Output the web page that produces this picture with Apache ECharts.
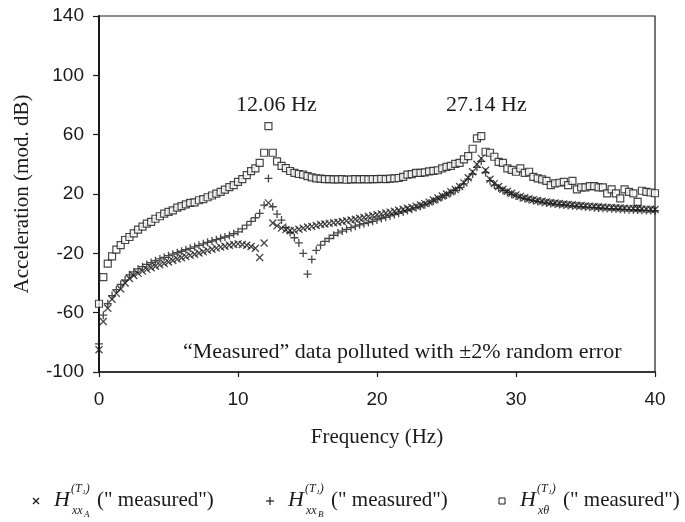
<!DOCTYPE html>
<html>
<head>
<meta charset="utf-8">
<title>Accelerance FRF</title>
<script src="https://cdn.jsdelivr.net/npm/echarts@6/dist/echarts.min.js"></script>
<style>
  html, body { margin: 0; padding: 0; background: #fff; }
  #chart { width: 685px; height: 522px; }
</style>
</head>
<body>
<div id="chart"></div>
<script>
// frequency grid (Hz)
const freq = [
  0, 0.31, 0.63, 0.94, 1.25, 1.56, 1.88, 2.19, 2.5, 2.81,
  3.13, 3.44, 3.75, 4.06, 4.38, 4.69, 5, 5.31, 5.63, 5.94,
  6.25, 6.56, 6.88, 7.19, 7.5, 7.81, 8.13, 8.44, 8.75, 9.06,
  9.38, 9.69, 10, 10.31, 10.63, 10.94, 11.25, 11.56, 11.88, 12.19,
  12.5, 12.81, 13.13, 13.44, 13.75, 14.06, 14.38, 14.69, 15, 15.31,
  15.63, 15.94, 16.25, 16.56, 16.88, 17.19, 17.5, 17.81, 18.13, 18.44,
  18.75, 19.06, 19.38, 19.69, 20, 20.31, 20.63, 20.94, 21.25, 21.56,
  21.88, 22.19, 22.5, 22.81, 23.13, 23.44, 23.75, 24.06, 24.38, 24.69,
  25, 25.31, 25.63, 25.94, 26.25, 26.56, 26.88, 27.19, 27.5, 27.81,
  28.13, 28.44, 28.75, 29.06, 29.38, 29.69, 30, 30.31, 30.63, 30.94,
  31.25, 31.56, 31.88, 32.19, 32.5, 32.81, 33.13, 33.44, 33.75, 34.06,
  34.38, 34.69, 35, 35.31, 35.63, 35.94, 36.25, 36.56, 36.88, 37.19,
  37.5, 37.81, 38.13, 38.44, 38.75, 39.06, 39.38, 39.69, 40
];

// H_xxA ("measured"), mod. dB
const hxxA = [
  -85, -66, -57, -51, -47, -44, -40, -37, -35, -33.5,
  -32, -30.8, -29.7, -28.7, -27.8, -26.8, -25.8, -24.8, -23.8, -23,
  -22.2, -21.4, -20.6, -19.8, -18.9, -18, -17.2, -16.5, -15.8, -15.2,
  -14.6, -14.1, -13.6, -14, -14.6, -15.4, -16.6, -22.8, -13, 14,
  0.5, -1.5, -3, -4, -4.8, -4.5, -3.8, -3, -2.3, -1.8,
  -1.2, -0.6, -0.2, 0.2, 0.6, 1, 1.5, 2, 2.5, 3,
  3.6, 4.2, 4.8, 5.5, 6, 6.6, 7.2, 7.8, 8.4, 9,
  9.7, 10.4, 11, 11.8, 12.6, 13.5, 14.5, 16, 17.3, 18.6,
  20, 21.5, 23, 25, 27.5, 31, 35, 40, 44, 36,
  30, 27, 25, 23.2, 21.8, 20.5, 19.4, 18.4, 17.5, 16.8,
  16.2, 15.6, 15.1, 14.7, 14.3, 13.9, 13.6, 13.3, 13, 12.7,
  12.4, 12.2, 12, 11.8, 11.6, 11.4, 11.2, 11, 10.9, 10.7,
  10.6, 10.4, 10.3, 10.2, 10, 9.9, 9.8, 9.7, 9.6
];

// H_xxB ("measured")
const hxxB = [
  -81, -61.7, -54, -48.5, -44.5, -41, -38, -34.5, -32.5, -30.5,
  -29, -27.5, -26.2, -25, -23.8, -22.7, -21.6, -20.6, -19.6, -18.6,
  -17.6, -16.6, -15.6, -14.6, -13.6, -12.6, -11.7, -10.8, -9.9, -9,
  -8, -6.8, -5.5, -3.5, -1, 1.5, 4, 7, 12.5, 30.5,
  11.4, 6.5, 2.4, -2.5, -6, -9.5, -13, -20, -34, -24.1,
  -18, -14.5, -12, -10, -7.8, -6.2, -5, -3.8, -2.7, -1.7,
  -0.8, 0, 0.8, 1.6, 2.5, 3.4, 4.3, 5.2, 6.1, 7,
  7.9, 8.8, 9.8, 10.8, 11.8, 12.8, 13.9, 15.2, 16.5, 17.9,
  19.3, 20.8, 22.4, 24.3, 26.8, 30, 33.5, 38, 42, 34.5,
  29, 26, 24, 22.4, 21, 19.8, 18.7, 17.7, 16.9, 16.2,
  15.6, 15, 14.5, 14, 13.6, 13.2, 12.9, 12.6, 12.3, 12,
  11.7, 11.5, 11.2, 11, 10.8, 10.6, 10.4, 10.2, 10, 9.9,
  9.7, 9.6, 9.4, 9.3, 9.2, 9, 8.9, 8.8, 8.7
];

// H_xθ ("measured")
const hxTheta = [
  -54, -36, -27, -22, -17.5, -14.5, -11, -9, -6.5, -4,
  -2, 0, 1.2, 3.3, 5, 6.8, 8, 9, 10.8, 11.8,
  13, 14, 14.3, 15.8, 16.5, 17.8, 19, 20.2, 21.5, 23,
  24.6, 26, 28.2, 30, 32.7, 35.4, 37.3, 41, 47.8, 65.8,
  47.8, 42, 39, 37.5, 35.5, 34.3, 33.5, 33, 32, 31.2,
  30.6, 30.3, 30, 30, 29.8, 29.8, 30, 29.6, 29.8, 30,
  29.8, 30, 29.8, 30, 30, 30.2, 30, 30.4, 30.5, 30.8,
  31.6, 33, 33.4, 34.2, 34.2, 34.6, 35.3, 35.6, 36, 37.3,
  38.3, 39, 40.3, 41, 43.3, 45.5, 50.5, 57.5, 59, 48.5,
  47.8, 45.1, 41.7, 41, 37.3, 36.2, 35, 37.3, 34.3, 35,
  31.6, 30.5, 29.8, 28.9, 26, 27.1, 27.6, 28.2, 26, 28.9,
  23.1, 24.5, 24.5, 25.3, 25.3, 24.5, 24.5, 20.4, 23.1, 20.4,
  17, 23.1, 21.5, 20.4, 14.7, 22.2, 21.5, 21, 20.5
];

const xTicks = [0, 10, 20, 30, 40];
const yTicks = [-100, -60, -20, 20, 60, 100, 140];

const SERIF = "'Liberation Serif', 'Times New Roman', serif";
const SANS = "'Liberation Sans', Arial, sans-serif";
const INK = '#1a1a1a';

const CROSS = 'path://M0,0L10,10M10,0L0,10';
const PLUS = 'path://M5,0L5,10M0,5L10,5';

function pairs(values) {
  return values.map((v, i) => [freq[i], v]);
}

function strokeMarker(symbol, size, width) {
  return {
    symbol: symbol,
    symbolSize: size,
    itemStyle: { color: 'transparent', borderColor: INK, borderWidth: width }
  };
}

function seg(x1, y1, x2, y2) {
  return {
    type: 'line',
    shape: { x1: x1, y1: y1, x2: x2, y2: y2 },
    style: { stroke: INK, lineWidth: 1.2 }
  };
}

// legend is drawn by hand because of the sub/superscripted H labels
const legendY = 501;

function legendItem(x0, marker, sub, subSub) {
  const y = legendY;
  const els = [].concat(marker);
  els.push({
    type: 'text', x: x0 + 18, y: y - 12,
    style: { text: 'H', font: 'italic 22px ' + SERIF, fill: INK }
  });
  els.push({
    type: 'text', x: x0 + 35, y: y - 18,
    style: { text: '(T\u2081)', font: 'italic 12px ' + SERIF, fill: INK }
  });
  els.push({
    type: 'text', x: x0 + 36, y: y + 4,
    style: { text: sub, font: 'italic 12px ' + SERIF, fill: INK }
  });
  if (subSub) {
    els.push({
      type: 'text', x: x0 + 48, y: y + 9,
      style: { text: subSub, font: 'italic 9px ' + SERIF, fill: INK }
    });
  }
  els.push({
    type: 'text', x: x0 + 61, y: y - 11,
    style: { text: '(" measured")', font: '21px ' + SERIF, fill: INK }
  });
  return els;
}

const legX = [36, 270, 502];

const graphics = [].concat(
  legendItem(legX[0], [
    seg(legX[0] - 3, legendY - 3, legX[0] + 3, legendY + 3),
    seg(legX[0] + 3, legendY - 3, legX[0] - 3, legendY + 3)
  ], 'xx', 'A'),
  legendItem(legX[1], [
    seg(legX[1], legendY - 4, legX[1], legendY + 4),
    seg(legX[1] - 4, legendY, legX[1] + 4, legendY)
  ], 'xx', 'B'),
  legendItem(legX[2], [{
    type: 'rect',
    shape: { x: legX[2] - 3, y: legendY - 3, width: 6, height: 6 },
    style: { stroke: INK, lineWidth: 1, fill: '#fff' }
  }], 'x\u03b8', null),
  [
    {
      type: 'text', x: 236, y: 94,
      style: { text: '12.06 Hz', font: '22px ' + SERIF, fill: INK }
    },
    {
      type: 'text', x: 446, y: 94,
      style: { text: '27.14 Hz', font: '22px ' + SERIF, fill: INK }
    },
    {
      type: 'text', x: 183, y: 341,
      style: { text: '\u201cMeasured\u201d data polluted with \u00b12% random error', font: '22px ' + SERIF, fill: INK }
    }
  ]
);

const chart = echarts.init(document.getElementById('chart'), null, { renderer: 'canvas' });

chart.setOption({
  animation: false,
  backgroundColor: '#fff',
  grid: {
    left: 99, right: 30, top: 16, bottom: 150,
    show: true, borderColor: INK, borderWidth: 1.2
  },
  xAxis: {
    type: 'value',
    min: xTicks[0], max: xTicks[xTicks.length - 1], interval: xTicks[1] - xTicks[0],
    name: 'Frequency (Hz)', nameLocation: 'middle', nameGap: 55,
    nameTextStyle: { fontFamily: SERIF, fontSize: 21, color: INK },
    axisLine: { onZero: false, lineStyle: { color: INK, width: 1.5 } },
    axisTick: { length: 5, lineStyle: { color: INK, width: 1.2 } },
    axisLabel: { fontFamily: SANS, fontSize: 19, color: INK, margin: 18 },
    splitLine: { show: false }
  },
  yAxis: {
    type: 'value',
    min: yTicks[0], max: yTicks[yTicks.length - 1], interval: yTicks[1] - yTicks[0],
    name: 'Acceleration (mod. dB)', nameLocation: 'middle', nameGap: 66, nameRotate: 90,
    nameTextStyle: { fontFamily: SERIF, fontSize: 21, color: INK },
    axisLine: { show: true, onZero: false, lineStyle: { color: INK, width: 2 } },
    axisTick: { show: true, length: 6, lineStyle: { color: INK, width: 1.2 } },
    axisLabel: { fontFamily: SANS, fontSize: 19, color: INK, margin: 15 },
    splitLine: { show: false }
  },
  series: [
    Object.assign({
      name: 'H_xxA', type: 'scatter', data: pairs(hxxA), z: 3
    }, strokeMarker(CROSS, 7, 1.3)),
    Object.assign({
      name: 'H_xxB', type: 'scatter', data: pairs(hxxB), z: 3
    }, strokeMarker(PLUS, 8, 1.3)),
    {
      name: 'H_xtheta', type: 'scatter', data: pairs(hxTheta), z: 2,
      symbol: 'rect', symbolSize: 7,
      itemStyle: { color: '#fff', borderColor: INK, borderWidth: 1.2 }
    }
  ],
  graphic: graphics
});
</script>
</body>
</html>
